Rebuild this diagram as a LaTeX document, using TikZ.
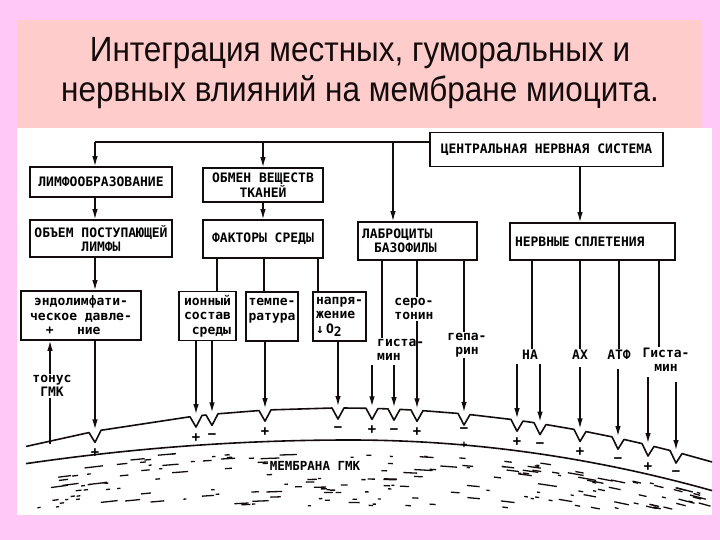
\documentclass[tikz,border=0pt]{standalone}
\usepackage{fontspec}
\setmainfont{Liberation Sans}
\newfontfamily\titlefont{Liberation Sans}[FakeStretch=0.9]
\newfontfamily\mono{DejaVu Sans Mono}
\usetikzlibrary{arrows.meta,calc}
\definecolor{bgpink}{RGB}{255,200,245}
\definecolor{salmon}{RGB}{255,204,204}
\definecolor{ink}{RGB}{20,12,12}
\begin{document}
\begin{tikzpicture}[x=1pt,y=-1pt,
  declare function={my(\x)=408+0.039*((\x-340)/10)^2; inn(\x)=440+(0.0225+0.0161*(\x>=350))*((\x-350)/10)^2;},
  box/.style={draw=ink, fill=white, line width=1.6pt, inner sep=0pt, font=\mono\bfseries\fontsize{13pt}{14.5pt}\selectfont},
  lab/.style={fill=white, inner sep=1pt, align=center, font=\mono\bfseries\fontsize{13pt}{14.5pt}\selectfont},
  conn/.style={draw=ink, line width=1.3pt},
  arr/.style={draw=ink, line width=1.3pt, -{Latex[length=10pt,width=5.5pt]}},
  mem/.style={draw=ink, line width=1.6pt, line join=round},
  sign/.style={inner sep=0pt, font=\bfseries\fontsize{15pt}{15pt}\selectfont},
  ttl/.style={anchor=base, text=ink, font=\titlefont\fontsize{35pt}{40pt}\selectfont}
]
\useasboundingbox (0,0) rectangle (720,540);
\fill[bgpink] (0,0) rectangle (720,540);
\fill[salmon] (17,20) rectangle (702,128);
\fill[white] (17,128) rectangle (712,515);

% title
\node[ttl] (t1) at (360,62) {Интеграция местных, гуморальных и};
\node[ttl] (t2) at (360,102) {нервных влияний на мембране миоцита.};

% upper boxes
\node[box, minimum width=233pt, minimum height=34pt] (cns) at (546.5,149.5) {ЦЕНТРАЛЬНАЯ НЕРВНАЯ СИСТЕМА};
\node[box, minimum width=142pt, minimum height=30pt] (lymph) at (101,182) {ЛИМФООБРАЗОВАНИЕ};
\node[box, minimum width=142pt, minimum height=37pt, align=center] (volume) at (101,238.5) {ОБЪЕМ ПОСТУПАЮЩЕЙ\\ЛИМФЫ};
\node[box, minimum width=120pt, minimum height=34pt, align=center] (metab) at (263,185) {ОБМЕН ВЕЩЕСТВ\\ТКАНЕЙ};
\node[box, minimum width=120pt, minimum height=38pt] (factors) at (263,239) {ФАКТОРЫ СРЕДЫ};
\node[box, minimum width=119pt, minimum height=38pt, text width=111pt, align=left] (labro) at (417.5,241) {ЛАБРОЦИТЫ\\\hspace*{12pt}БАЗОФИЛЫ};
\node[box, minimum width=165pt, minimum height=37pt, text width=155pt, align=left] (plexus) at (592.5,241.5) {НЕРВНЫЕ СПЛЕТЕНИЯ};

% lower boxes
\node[box, minimum width=120pt, minimum height=49pt, align=center] (endo) at (81,315.5) {эндолимфати-\\ческое давле-\\\phantom{xx}+\phantom{xxx}ние\phantom{xxxx}};
\node[box, minimum width=57pt, minimum height=49pt, align=right] (ion) at (207.5,316) {ионный\\состав\\среды};
\node[box, minimum width=52pt, minimum height=49pt, align=left] (temp) at (272,316.5) {темпе-\\ратура\\\mbox{}};
\node[box, minimum width=53pt, minimum height=49pt, align=left] (otwo) at (339.5,316.5) {напря-\\жение\\↓\,O\raisebox{-3pt}{2}};

% free labels
\node[lab] (sero) at (414,309) {серо-\\тонин};
\node[lab, align=left, anchor=west] (hist) at (376,350) {гиста-\\мин};
\node[lab] (gep) at (467,345) {гепа-\\рин};
\node[lab] (na) at (530,355) {НА};
\node[lab] (ach) at (580,355) {АХ};
\node[lab] (atf) at (619,355) {АТФ};
\node[lab] (hist2) at (666,360) {Гиста-\\мин};
\node[lab] (tonus) at (52,386) {тонус\\ГМК};

% helper coordinates
\coordinate (tl) at (95,142);
\coordinate (tb) at (393,142);
\coordinate (xc) at (580,0);
\coordinate (f1) at (217,0);
\coordinate (f2) at (264,0);
\coordinate (f3) at (318,0);
\coordinate (s1) at (382,0);
\coordinate (s2) at (417,0);
\coordinate (s3) at (464,0);
\coordinate (p1) at (532,0);
\coordinate (p4) at (659,0);
\foreach \x in {95,196,212,265,338,372,394,417,464,517,540,580,618,648,676}
  \coordinate (t\x) at (\x,{my(\x)-2});
\coordinate (b50) at (50,{my(50)+3});

% top connectors
\draw[conn] (tl) -- (tl -| cns.west);
\draw[arr] (tl) -- (tl |- lymph.north);
\draw[arr] (metab.north |- tl) -- (metab.north);
\draw[arr] (tb) -- (tb |- labro.north);
\draw[arr] (xc |- cns.south) -- (xc |- plexus.north);
\draw[arr] (tl |- lymph.south) -- (tl |- volume.north);
\draw[arr] (tl |- volume.south) -- (tl |- endo.north);
\draw[arr] (metab.south) -- (factors.north);

% factors to lower boxes
\draw[conn] (f1 |- factors.south) -- (f1 |- ion.north);
\draw[conn] (f2 |- factors.south) -- (f2 |- temp.north);
\draw[conn] (f3 |- factors.south) -- (f3 |- otwo.north);

% labrocytes
\draw[conn] (s1 |- labro.south) -- (s1 |- hist.north);
\draw[conn] (s2 |- labro.south) -- (s2 |- sero.north);
\draw[conn] (s3 |- labro.south) -- (s3 |- gep.north);

% plexus
\draw[conn] (p1 |- plexus.south) -- (p1 |- na.north);
\draw[conn] (ach.north |- plexus.south) -- (ach.north);
\draw[conn] (atf.north |- plexus.south) -- (atf.north);
\draw[conn] (p4 |- plexus.south) -- (p4 |- hist2.north);

% arrows to membrane
\draw[arr] (t95 |- endo.south) -- (t95);
\draw[arr] (t196 |- ion.south) -- (t196);
\draw[arr] (t212 |- ion.south) -- (t212);
\draw[arr] (t265 |- temp.south) -- (t265);
\draw[arr] (t338 |- otwo.south) -- (t338);
\draw[arr] ($(t372 |- hist.south)+(0,3)$) -- (t372);
\draw[arr] ($(t394 |- hist.south)+(0,3)$) -- (t394);
\draw[arr] (t417 |- sero.south) -- (t417);
\draw[arr] (t464 |- gep.south) -- (t464);
\draw[arr] ($(t517 |- na.south)+(0,3)$) -- (t517);
\draw[arr] ($(t540 |- na.south)+(0,3)$) -- (t540);
\draw[arr] ($(t580 |- ach.south)+(0,6)$) -- (t580);
\draw[arr] ($(t618 |- atf.south)+(0,8)$) -- (t618);
\draw[arr] ($(t648 |- hist2.south)+(0,4)$) -- (t648);
\draw[arr] ($(t676 |- hist2.south)+(0,9)$) -- (t676);

% tonus
\draw[conn] (b50) -- (b50 |- tonus.south);
\draw[arr] (b50 |- tonus.north) -- (b50 |- endo.south);

% membrane
\draw[mem] (26,{my(26)}) foreach \x in {95,196,212,265,338,372,394,417,464,517,540,580,618,648,676}{ -- ({\x-6},{my(\x-6)}) -- (\x,{my(\x)+11}) -- ({\x+6},{my(\x+6)}) } -- (712,{my(712)});
\draw[mem] plot[domain=26:712, samples=70, smooth] (\x,{inn(\x)});

% texture
\pgfmathsetseed{12345}
\foreach \i in {1,...,190}{
  \pgfmathsetmacro{\dx}{30+672*rnd}
  \pgfmathsetmacro{\lo}{inn(\dx)+6}
  \pgfmathsetmacro{\dy}{\lo+(508-\lo)*rnd}
  \pgfmathsetmacro{\rr}{rnd}
  \pgfmathsetmacro{\len}{3+16*\rr*\rr}
  \pgfmathsetmacro{\sl}{(inn(\dx+10)-inn(\dx))/10}
  \draw[ink, line width=1.3pt] (\dx,\dy) -- ++(\len,{\sl*\len});
}
\node[fill=white, inner sep=2pt, font=\mono\bfseries\fontsize{12.5pt}{13pt}\selectfont] (memb) at (315,466) {МЕМБРАНА ГМК};

% signs
\foreach \x/\s in {95/+,196/+,212/−,265/+,338/−,372/+,394/−,417/+,517/+,540/−,580/+,618/−,648/+,676/−}
  \node[sign] (sg\x) at (\x,{my(\x)+22}) {\s};
\node[sign] (sgm) at (464,{my(464)+17}) {−};
\node[sign, font=\bfseries\fontsize{11pt}{11pt}\selectfont] (sgp) at (464,{my(464)+31}) {+};
\end{tikzpicture}
\end{document}
